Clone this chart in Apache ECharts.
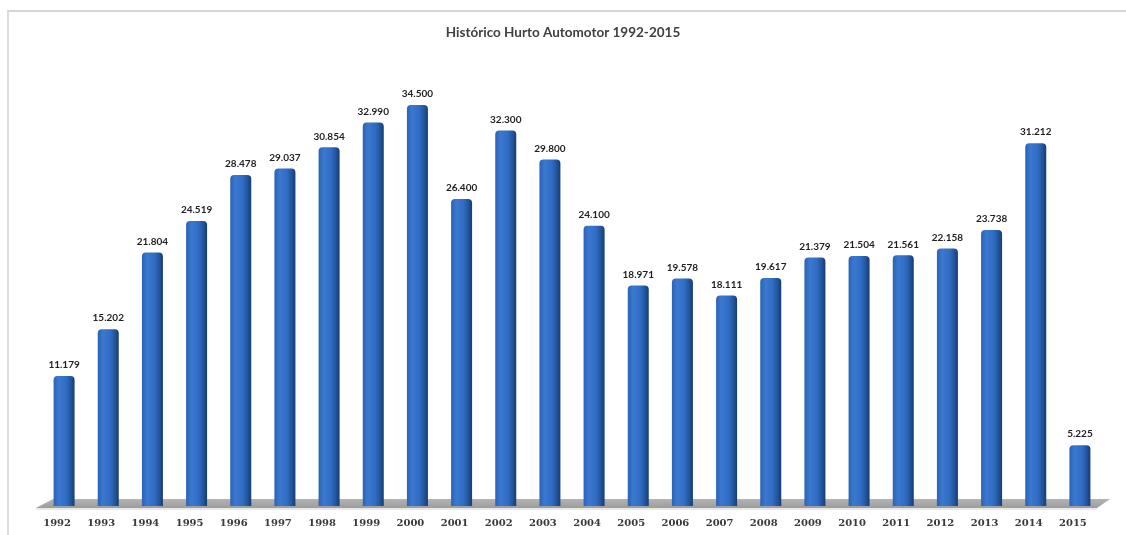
<!DOCTYPE html>
<html>
<head>
<meta charset="utf-8">
<script src="https://cdn.jsdelivr.net/npm/echarts@6/dist/echarts.min.js"></script>
<style>
  html, body { margin: 0; padding: 0; background: #ffffff; }
  #frame { position: absolute; left: 7px; top: 10px; width: 1200px; height: 600px;
           border-top: 2px solid #d6d6d6; border-left: 2px solid #dcdcdc; box-sizing: border-box; }
  #chart { position: absolute; left: 0; top: 0; width: 1126px; height: 535px; }
</style>
</head>
<body>
<div id="frame"></div>
<div id="chart"></div>
<script>
const titleText = 'Histórico Hurto Automotor 1992-2015';
const years = ['1992','1993','1994','1995','1996','1997','1998','1999','2000','2001','2002','2003',
               '2004','2005','2006','2007','2008','2009','2010','2011','2012','2013','2014','2015'];
const thefts = [11179, 15202, 21804, 24519, 28478, 29037, 30854, 32990, 34500, 26400, 32300, 29800,
                24100, 18971, 19578, 18111, 19617, 21379, 21504, 21561, 22158, 23738, 31212, 5225];

function fmt(v) {
  return String(v).replace(/\B(?=(\d{3})+(?!\d))/g, '.');
}

const chart = echarts.init(document.getElementById('chart'), null, { renderer: 'canvas' });

const barColor = new echarts.graphic.LinearGradient(0, 0, 1, 0, [
  { offset: 0, color: '#2a63b6' },
  { offset: 0.25, color: '#3b78d0' },
  { offset: 0.6, color: '#2f6cc2' },
  { offset: 0.8, color: '#24589f' },
  { offset: 1, color: '#163c72' }
]);

const option = {
  backgroundColor: 'transparent',
  animation: false,
  title: {
    text: titleText,
    left: 'center',
    top: 21,
    textStyle: { fontFamily: 'Lato', fontWeight: 'bold', fontSize: 13.5, color: '#404040' }
  },
  grid: { left: 42, right: 24, top: 41, bottom: 29, containLabel: false },
  xAxis: {
    type: 'category',
    data: years,
    axisLine: { show: false },
    axisTick: { show: false },
    axisLabel: {
      fontFamily: 'DejaVu Serif',
      fontWeight: 'bold',
      fontSize: 10,
      color: '#3a3a3a',
      margin: 12,
      padding: [0, 14, 0, 0]
    }
  },
  yAxis: {
    type: 'value',
    min: 0,
    max: 40000,
    show: false,
    splitLine: { show: false }
  },
  series: [{
    type: 'bar',
    data: thefts,
    barWidth: 21,
    z: 3,
    itemStyle: {
      color: barColor,
      borderRadius: [4, 4, 0, 0]
    },
    label: {
      show: true,
      position: 'top',
      distance: 6,
      fontFamily: 'Lato',
      fontWeight: 'bold',
      fontSize: 10,
      color: '#1f1f1f',
      formatter: p => fmt(p.value)
    }
  }]
};

chart.setOption(option);

// Decorative floor under the bars, placed from the axis scale
const y0 = chart.convertToPixel({ yAxisIndex: 0 }, 0);
const firstX = chart.convertToPixel({ xAxisIndex: 0 }, years[0]);
const lastX = chart.convertToPixel({ xAxisIndex: 0 }, years[years.length - 1]);
const band = (lastX - firstX) / (years.length - 1);
const L = firstX - band / 2;
const R = lastX + band / 2;
chart.setOption({
  graphic: [
    {
      type: 'polygon',
      z: 1,
      shape: { points: [[L + 11, y0 - 7], [R + 8, y0 - 7], [R - 5, y0 + 2], [L - 6, y0 + 2]] },
      style: {
        fill: new echarts.graphic.LinearGradient(0, 0, 0, 1, [
          { offset: 0, color: '#b4b4b4' },
          { offset: 1, color: '#9c9c9c' }
        ])
      }
    },
    {
      type: 'line',
      z: 1,
      shape: { x1: L - 6, y1: y0 + 3, x2: R - 5, y2: y0 + 3 },
      style: { stroke: '#e2e2e2', lineWidth: 1.5 }
    }
  ]
});
</script>
</body>
</html>
